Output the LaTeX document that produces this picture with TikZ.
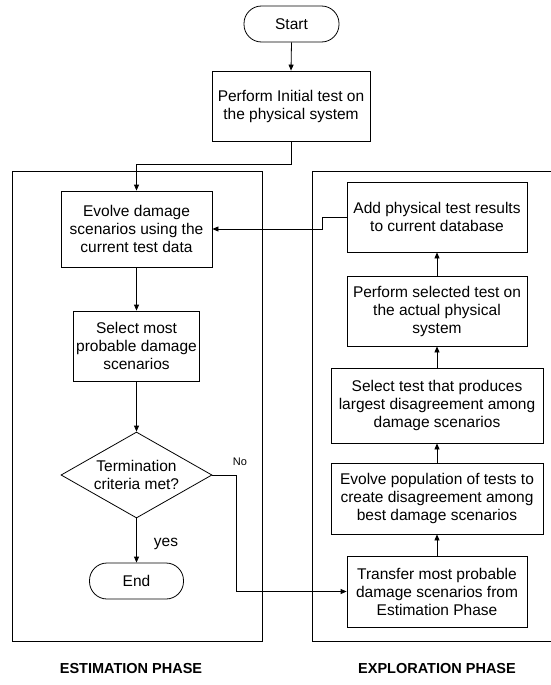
\documentclass[tikz,border=0pt]{standalone}
\usepackage{fontspec}
\setmainfont{Liberation Sans}
\usetikzlibrary{arrows.meta,shapes.geometric}
\begin{document}
\begin{tikzpicture}[x=1pt,y=-1pt,
  every node/.style={font=\fontsize{15.5}{18}\selectfont},
  procbox/.style={draw, line width=0.8pt, inner sep=0pt, align=center},
  termbox/.style={draw, line width=0.8pt, inner sep=0pt, align=center, rounded corners=17.5pt, minimum height=36pt},
  decbox/.style={draw, line width=0.8pt, shape=diamond, inner sep=0pt},
  frame/.style={draw, line width=0.8pt},
  arr/.style={line width=0.8pt, -{Triangle[length=6pt,width=5pt]}},
  phase/.style={font=\fontsize{14.5}{17}\selectfont\bfseries}]
\useasboundingbox (0,0) rectangle (551,685);

% frames
\node[frame, minimum width=250pt, minimum height=470pt, inner sep=0pt] (estframe) at (137,406) {};
\draw[frame] (551,171) -- (312,171) -- (312,641) -- (551,641);

% left column
\node[termbox, minimum width=95pt] (start) at (291.5,24) {Start};
\node[procbox, minimum width=158pt, minimum height=70pt] (init) at (291,106) {Perform Initial test on\\the physical system};
\node[procbox, minimum width=151pt, minimum height=76pt] (evolve) at (136.5,229) {Evolve damage\\scenarios using the\\current test data};
\node[procbox, minimum width=126pt, minimum height=70pt] (sel) at (136.5,346) {Select most\\probable damage\\scenarios};
\node[decbox, minimum width=151pt, minimum height=86pt] (term) at (136.5,475) {};
\node[align=center, inner sep=0pt] (termtext) at (term.center) {Termination\\criteria met?};
\node[termbox, minimum width=94pt] (end) at (136.5,581) {End};

% right column
\node[procbox, minimum width=180pt, minimum height=70pt] (add) at (437,217) {Add physical test results\\to current database};
\node[procbox, minimum width=180pt, minimum height=70pt] (perf) at (437,311) {Perform selected test on\\the actual physical\\system};
\node[procbox, minimum width=212pt, minimum height=75pt] (seltest) at (437,405.5) {Select test that produces\\largest disagreement among\\damage scenarios};
\node[procbox, minimum width=212pt, minimum height=71pt] (evpop) at (437,498.5) {Evolve population of tests to\\create disagreement among\\best damage scenarios};
\node[procbox, minimum width=180pt, minimum height=71pt] (transfer) at (437,591.5) {Transfer most probable\\damage scenarios from\\Estimation Phase};

% labels
\node[font=\fontsize{11}{13}\selectfont] (nolabel) at (240,462) {No};
\node (yeslabel) at (166,544) {yes};
\node[phase] (estlabel) at (131,668) {ESTIMATION PHASE};
\node[phase] (explabel) at (437,668) {EXPLORATION PHASE};

% connectors
\draw[arr] (start.south) -- (init.north);
\draw[arr] (init.south) -- ++(0,23) -| (evolve.north);
\draw[arr] (evolve.south) -- (sel.north);
\draw[arr] (sel.south) -- (term.north);
\draw[arr] (term.south) -- (end.north);
\coordinate (nobend) at (236,475);
\draw[arr] (term.east) -- (nobend) |- (transfer.west);
\draw[arr] (transfer.north) -- (evpop.south);
\draw[arr] (evpop.north) -- (seltest.south);
\draw[arr] (seltest.north) -- (perf.south);
\draw[arr] (perf.north) -- (add.south);
\draw[arr] (add.west) -- ++(-24,0) |- (evolve.east);
\end{tikzpicture}
\end{document}
